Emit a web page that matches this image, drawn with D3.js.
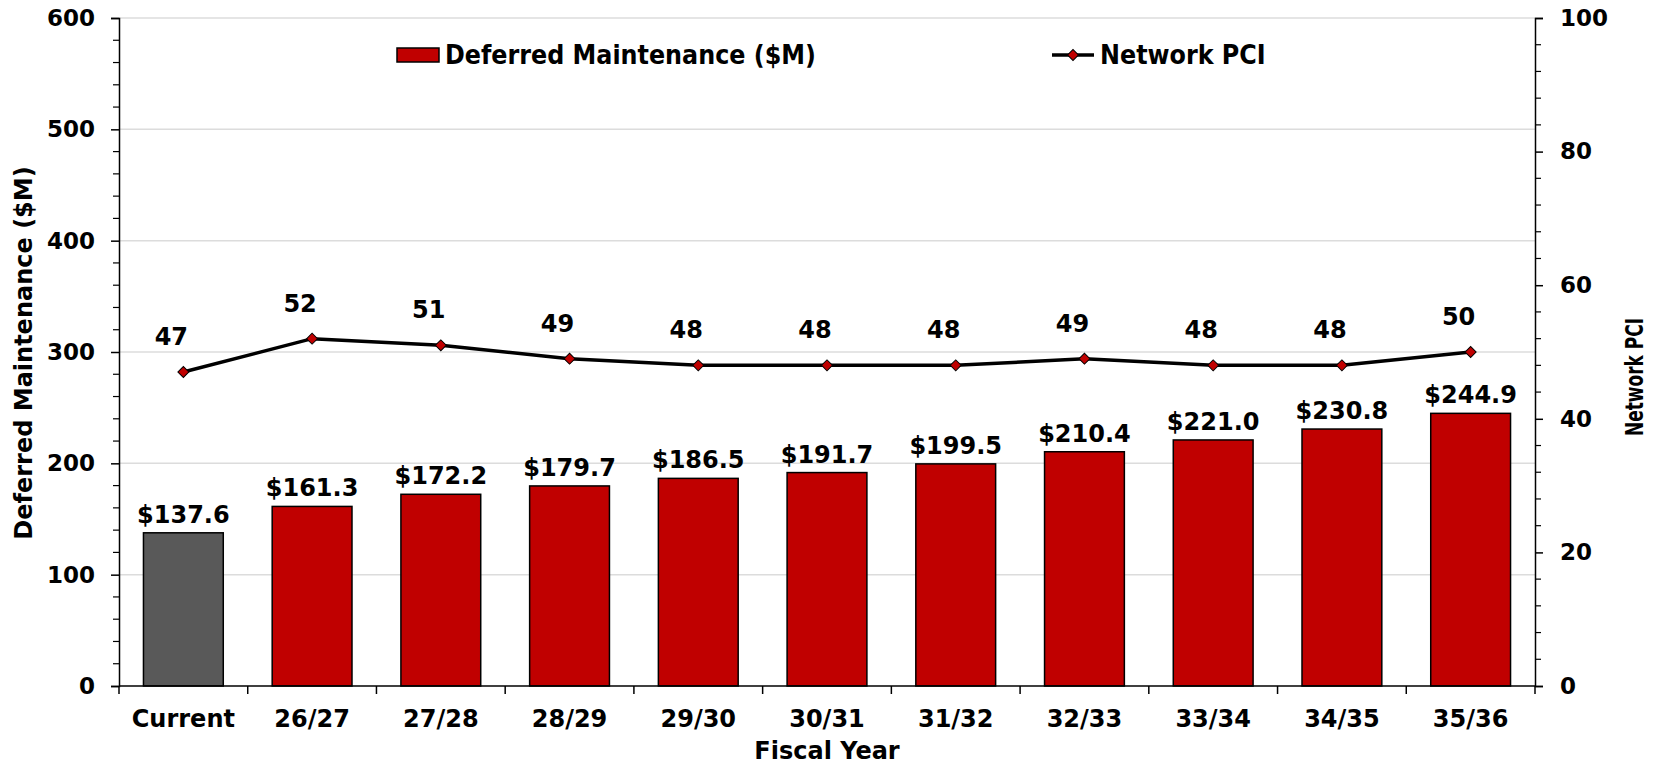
<!DOCTYPE html>
<html>
<head>
<meta charset="utf-8">
<script src="https://cdn.jsdelivr.net/npm/d3@7"></script>
<style>
  body { margin: 0; background: #fff; }
  svg { display: block; }
</style>
</head>
<body>
<svg></svg>
<script>
let width = 1666, height = 767;

// chart data
const years = ["Current", "26/27", "27/28", "28/29", "29/30", "30/31", "31/32", "32/33", "33/34", "34/35", "35/36"];
const deferred = [137.6, 161.3, 172.2, 179.7, 186.5, 191.7, 199.5, 210.4, 221.0, 230.8, 244.9];
const pci = [47, 52, 51, 49, 48, 48, 48, 49, 48, 48, 50];
const leftTicks = [0, 100, 200, 300, 400, 500, 600];
const rightTicks = [0, 20, 40, 60, 80, 100];

const margin = {top: 18, right: 131, bottom: 81, left: 119};
const font = "'DejaVu Sans', Verdana, sans-serif";
const fontNarrow = "'DejaVu Sans Condensed', 'DejaVu Sans', sans-serif";
const red = "#c00000", grey = "#595959";

let svg = d3.select("svg")
    .attr("width", width)
    .attr("height", height);

let x = d3.scaleBand()
    .domain(years)
    .range([margin.left, width - margin.right])
    .paddingInner(0.38)
    .paddingOuter(0.19);

let yL = d3.scaleLinear().domain([0, 600]).range([height - margin.bottom, margin.top]);
let yR = d3.scaleLinear().domain([0, 100]).range([height - margin.bottom, margin.top]);

const x0 = margin.left, x1 = width - margin.right, yBase = yL(0);
const cx = (d, i) => x(years[i]) + x.bandwidth() / 2;

// gridlines
svg.append("g")
    .selectAll("line")
    .data(leftTicks.slice(1))
    .enter()
    .append("line")
    .attr("x1", x0).attr("x2", x1)
    .attr("y1", d => yL(d)).attr("y2", d => yL(d))
    .attr("stroke", "#dcdcdc")
    .attr("stroke-width", 1.5);

// bars
svg.append("g")
    .selectAll("rect")
    .data(deferred)
    .enter()
    .append("rect")
    .attr("x", (d, i) => x(years[i]))
    .attr("y", d => yL(d))
    .attr("width", x.bandwidth())
    .attr("height", d => yBase - yL(d))
    .attr("fill", (d, i) => i === 0 ? grey : red)
    .attr("stroke", "#000")
    .attr("stroke-width", 1.5);

// bar labels
svg.append("g")
    .selectAll("text")
    .data(deferred)
    .enter()
    .append("text")
    .attr("x", cx)
    .attr("y", d => yL(d) - 10)
    .attr("text-anchor", "middle")
    .style("font-family", font)
    .style("font-weight", "bold")
    .style("font-size", "24px")
    .text(d => "$" + d.toFixed(1));

// left axis
const axisL = d3.axisLeft(yL).tickValues(leftTicks).tickSize(8).tickPadding(16);
const gL = svg.append("g").attr("transform", `translate(${x0},0)`).call(axisL);
gL.select(".domain").attr("stroke-width", 1.5);
gL.selectAll(".tick line").attr("stroke-width", 1.5);
gL.selectAll("text").style("font-family", font).style("font-weight", "bold").style("font-size", "23px").attr("fill", "#000");
// minor ticks
svg.append("g")
    .selectAll("line")
    .data(d3.range(0, 601, 20).filter(d => d % 100 !== 0))
    .enter()
    .append("line")
    .attr("x1", x0 - 6).attr("x2", x0)
    .attr("y1", d => yL(d)).attr("y2", d => yL(d))
    .attr("stroke", "#000").attr("stroke-width", 1.2);

// right axis
const axisR = d3.axisRight(yR).tickValues(rightTicks).tickSize(8).tickPadding(17);
const gR = svg.append("g").attr("transform", `translate(${x1},0)`).call(axisR);
gR.select(".domain").attr("stroke-width", 1.5);
gR.selectAll(".tick line").attr("stroke-width", 1.5);
gR.selectAll("text").style("font-family", font).style("font-weight", "bold").style("font-size", "23px").attr("fill", "#000");
svg.append("g")
    .selectAll("line")
    .data(d3.range(0, 101, 4).filter(d => d % 20 !== 0))
    .enter()
    .append("line")
    .attr("x1", x1).attr("x2", x1 + 6)
    .attr("y1", d => yR(d)).attr("y2", d => yR(d))
    .attr("stroke", "#000").attr("stroke-width", 1.2);

// x axis
svg.append("line")
    .attr("x1", x0).attr("x2", x1)
    .attr("y1", yBase).attr("y2", yBase)
    .attr("stroke", "#000").attr("stroke-width", 1.5);
svg.append("g")
    .selectAll("line")
    .data(d3.range(years.length + 1))
    .enter()
    .append("line")
    .attr("x1", i => x0 + i * x.step()).attr("x2", i => x0 + i * x.step())
    .attr("y1", yBase).attr("y2", yBase + 8)
    .attr("stroke", "#000").attr("stroke-width", 1.5);
svg.append("g")
    .selectAll("text")
    .data(years)
    .enter()
    .append("text")
    .attr("x", d => x(d) + x.bandwidth() / 2)
    .attr("y", yBase + 41)
    .attr("text-anchor", "middle")
    .style("font-family", font)
    .style("font-weight", "bold")
    .style("font-size", "24px")
    .text(d => d);

// PCI line
const line = d3.line()
    .x(cx)
    .y(d => yR(d));
svg.append("path")
    .datum(pci)
    .attr("d", line)
    .attr("fill", "none")
    .attr("stroke", "#000")
    .attr("stroke-width", 3.5);

const diamond = d3.symbol().type(d3.symbolSquare).size(60);
svg.append("g")
    .selectAll("path")
    .data(pci)
    .enter()
    .append("path")
    .attr("d", diamond)
    .attr("transform", (d, i) => `translate(${cx(d, i)},${yR(d)}) rotate(45)`)
    .attr("fill", red)
    .attr("stroke", "#000")
    .attr("stroke-width", 1);

svg.append("g")
    .selectAll("text")
    .data(pci)
    .enter()
    .append("text")
    .attr("x", (d, i) => cx(d, i) - 12)
    .attr("y", d => yR(d) - 27)
    .attr("text-anchor", "middle")
    .style("font-family", font)
    .style("font-weight", "bold")
    .style("font-size", "24px")
    .text(d => d);

// axis titles
svg.append("text")
    .attr("transform", `translate(32,353) rotate(-90)`)
    .attr("text-anchor", "middle")
    .style("font-family", font)
    .style("font-weight", "bold")
    .style("font-size", "24px")
    .text("Deferred Maintenance ($M)");

svg.append("text")
    .attr("transform", `translate(1643,377) rotate(-90)`)
    .attr("text-anchor", "middle")
    .attr("textLength", 118)
    .attr("lengthAdjust", "spacingAndGlyphs")
    .style("font-family", fontNarrow)
    .style("font-weight", "bold")
    .style("font-size", "25px")
    .text("Network PCI");

svg.append("text")
    .attr("x", (x0 + x1) / 2)
    .attr("y", 759)
    .attr("text-anchor", "middle")
    .style("font-family", font)
    .style("font-weight", "bold")
    .style("font-size", "24px")
    .text("Fiscal Year");

// legend
const legend = svg.append("g");
legend.append("rect")
    .attr("x", 397).attr("y", 48)
    .attr("width", 42).attr("height", 14)
    .attr("fill", red).attr("stroke", "#000").attr("stroke-width", 1.5);
legend.append("text")
    .attr("x", 445).attr("y", 64)
    .style("font-family", fontNarrow)
    .style("font-weight", "bold")
    .style("font-size", "26.5px")
    .text("Deferred Maintenance ($M)");
legend.append("line")
    .attr("x1", 1052).attr("x2", 1094)
    .attr("y1", 55).attr("y2", 55)
    .attr("stroke", "#000").attr("stroke-width", 3.5);
legend.append("path")
    .attr("d", diamond)
    .attr("transform", "translate(1073,55) rotate(45)")
    .attr("fill", red).attr("stroke", "#000").attr("stroke-width", 1);
legend.append("text")
    .attr("x", 1100).attr("y", 64)
    .style("font-family", fontNarrow)
    .style("font-weight", "bold")
    .style("font-size", "26.5px")
    .text("Network PCI");
</script>
</body>
</html>
